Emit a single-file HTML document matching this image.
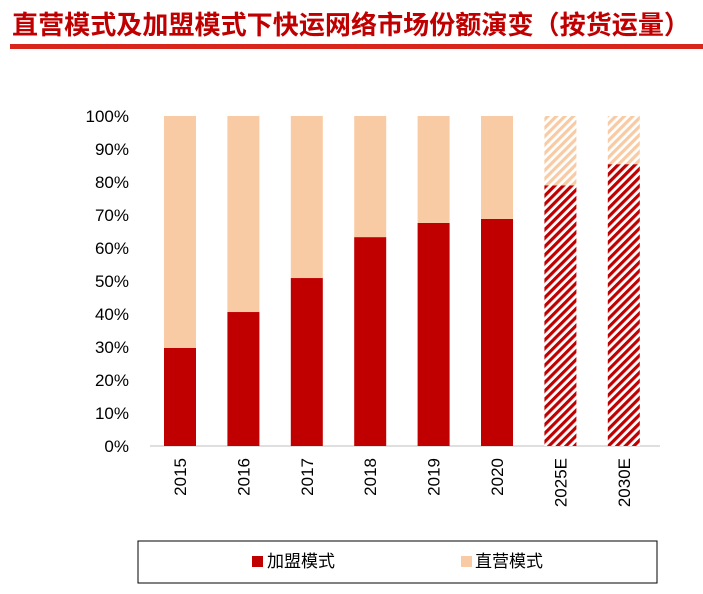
<!DOCTYPE html>
<html><head><meta charset="utf-8"><style>
body{margin:0;background:#fff;width:703px;height:589px;overflow:hidden;font-family:"Liberation Sans","Noto Sans CJK SC",sans-serif}
</style></head><body>
<svg id="c" width="703" height="589" xmlns="http://www.w3.org/2000/svg">
<defs>
<pattern id="hr" width="6" height="6" patternUnits="userSpaceOnUse" patternTransform="rotate(45)"><rect width="6" height="6" fill="#fff"/><rect width="3.2" height="6" fill="#c00000"/></pattern>
<pattern id="hp" width="6" height="6" patternUnits="userSpaceOnUse" patternTransform="rotate(45)"><rect width="6" height="6" fill="#fff"/><rect width="3.2" height="6" fill="#f8cba4"/></pattern>
</defs>
<text x="12" y="34" font-size="26" font-weight="bold" fill="#c00000" textLength="678" lengthAdjust="spacingAndGlyphs" font-family="'Noto Sans CJK SC',sans-serif">直营模式及加盟模式下快运网络市场份额演变（按货运量）</text>
<rect x="10" y="44" width="693" height="5" fill="#d9261c"/>
<g id="ax"></g>
<g id="bars"></g>
<rect x="138" y="541" width="519" height="42" fill="none" stroke="#000" stroke-width="1"/>
<rect x="252" y="556" width="11" height="11" fill="#c00000"/>
<text x="267" y="567" font-size="17" fill="#000">加盟模式</text>
<rect x="461" y="556" width="11" height="11" fill="#f8cba4"/>
<text x="475" y="567" font-size="17" fill="#000">直营模式</text>
</svg>
<script>
const categories=["2015","2016","2017","2018","2019","2020","2025E","2030E"];
const franchise=[29.7,40.6,50.9,63.3,67.6,68.8,79,85.4];
const forecast=[false,false,false,false,false,false,true,true];
const yTicks=["0%","10%","20%","30%","40%","50%","60%","70%","80%","90%","100%"];
const NS="http://www.w3.org/2000/svg";
const y0=446,y1=116;
function y(v){return y0-(y0-y1)*v/100;}
function x(i){return 164+i*63.4;}
const bw=32;
function mk(t,a,p){const e=document.createElementNS(NS,t);for(const k in a)e.setAttribute(k,a[k]);p.appendChild(e);return e;}
const ax=document.getElementById('ax'),bars=document.getElementById('bars');
const bl=mk('line',{x1:150,x2:660,y1:y0,y2:y0,stroke:'#bfbfbf','stroke-width':1},ax);


yTicks.forEach((t,i)=>{
  const tx=mk('text',{x:129,y:y(i*10)+6,'font-size':17,'text-anchor':'end',fill:'#000'},ax);
  tx.textContent=t;
  
  
});
categories.forEach((c,i)=>{
  const v=franchise[i],xx=x(i);
  const r1=mk('rect',{x:xx,y:y(v),width:bw,height:y0-y(v),fill:forecast[i]?'url(#hr)':'#c00000'},bars);
  
  
  const r2=mk('rect',{x:xx,y:y(100),width:bw,height:y(v)-y(100),fill:forecast[i]?'url(#hp)':'#f8cba4'},bars);
  
  
  const cx=xx+bw/2;
  const t=mk('text',{x:0,y:0,'font-size':17,'text-anchor':'end',fill:'#000',transform:`translate(${cx+6},458) rotate(-90)`},ax);
  t.textContent=c;
  
  
});
</script>
</body></html>
